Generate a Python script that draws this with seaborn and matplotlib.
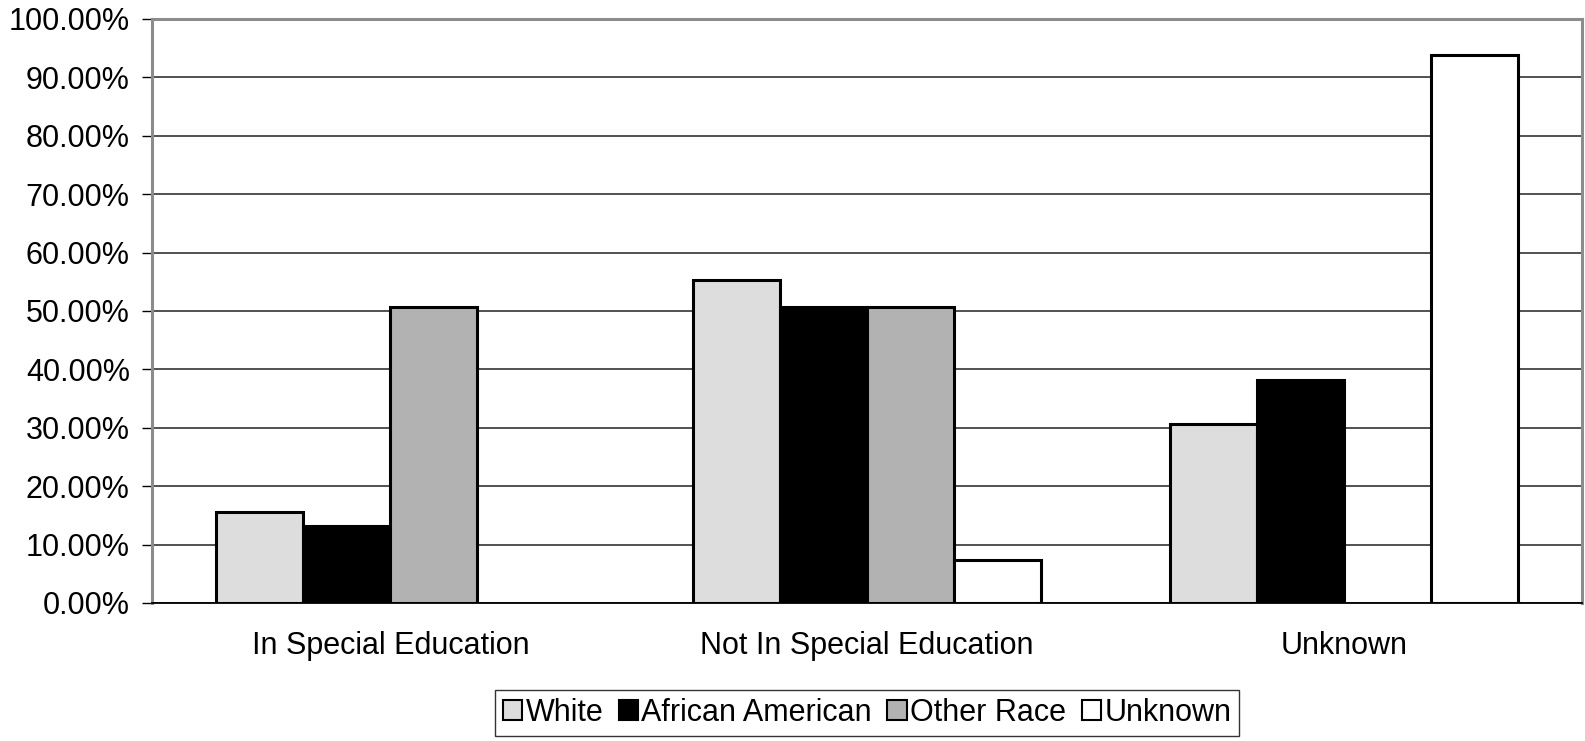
import numpy as np
import pandas as pd
import matplotlib
matplotlib.use("Agg")
import matplotlib.pyplot as plt
import matplotlib.patches as mpatches
import seaborn as sns

# data (percent)
categories = ["In Special Education", "Not In Special Education", "Unknown"]
races = ["White", "African American", "Other Race", "Unknown"]
white = [15.6, 55.3, 30.7]
african_american = [13.2, 50.6, 38.1]
other_race = [50.6, 50.6, 0.0]
unknown = [0.0, 7.3, 93.9]
colors = ["#DDDDDD", "#000000", "#B2B2B2", "#FFFFFF"]
ytick_vals = list(range(0, 101, 10))

rows = []
for race, vals in zip(races, [white, african_american, other_race, unknown]):
    for cat, v in zip(categories, vals):
        rows.append({"Category": cat, "Race": race, "Value": v})
df = pd.DataFrame(rows)

sns.set_style("white")
plt.rcParams["font.family"] = ["Liberation Sans", "DejaVu Sans"]
plt.rcParams["text.color"] = "black"
plt.rcParams["xtick.color"] = "black"
plt.rcParams["ytick.color"] = "black"

fig = plt.figure(figsize=(15.85, 7.41), dpi=100)
ax = fig.add_axes([152 / 1585, 1 - 603 / 741, 1430 / 1585, 584 / 741])

sns.barplot(data=df, x="Category", y="Value", hue="Race", order=categories,
            hue_order=races, palette=colors, width=0.73, edgecolor="black",
            linewidth=2.2, saturation=1, legend=False, ax=ax, zorder=3)

# hide empty bars
for p in ax.patches:
    if p.get_height() == 0:
        p.set_visible(False)

ax.set_ylim(0, 100)
ax.set_xlim(-0.5, 2.5)
ax.set_yticks(ytick_vals)
ax.set_yticklabels([f"{v:.2f}%" for v in ytick_vals], fontsize=22)
ax.yaxis.grid(True, color="#222222", linewidth=1.1, zorder=0)
ax.set_axisbelow(True)

# category boundary ticks and centred labels
ax.set_xticks([-0.5, 0.5, 1.5, 2.5])
ax.set_xticklabels([])
ax.set_xticks([0, 1, 2], minor=True)
ax.set_xticklabels(categories, minor=True, fontsize=22)
ax.tick_params(axis="x", which="major", length=7, width=1, direction="out")
ax.tick_params(axis="x", which="minor", length=0, pad=20)
ax.tick_params(axis="y", length=7, width=1, direction="out", pad=9, left=True)
ax.set_xlabel("")
ax.set_ylabel("")

for side in ["top", "left", "right"]:
    ax.spines[side].set_color("#8C8C8C")
    ax.spines[side].set_linewidth(2.2)
ax.spines["bottom"].set_color("black")
ax.spines["bottom"].set_linewidth(1.3)

handles = [mpatches.Patch(facecolor=c, edgecolor="black", linewidth=1.5, label=r)
           for c, r in zip(colors, races)]
leg = fig.legend(handles=handles, loc="center", bbox_to_anchor=(867 / 1585, 1 - 713 / 741),
                 ncol=4, fontsize=22, frameon=True, fancybox=False, edgecolor="black",
                 handlelength=0.65, handleheight=0.65, handletextpad=0.1,
                 columnspacing=0.5, borderpad=0.25, borderaxespad=0)
leg.get_frame().set_linewidth(1.0)

fig.savefig("out.png", dpi=100)
